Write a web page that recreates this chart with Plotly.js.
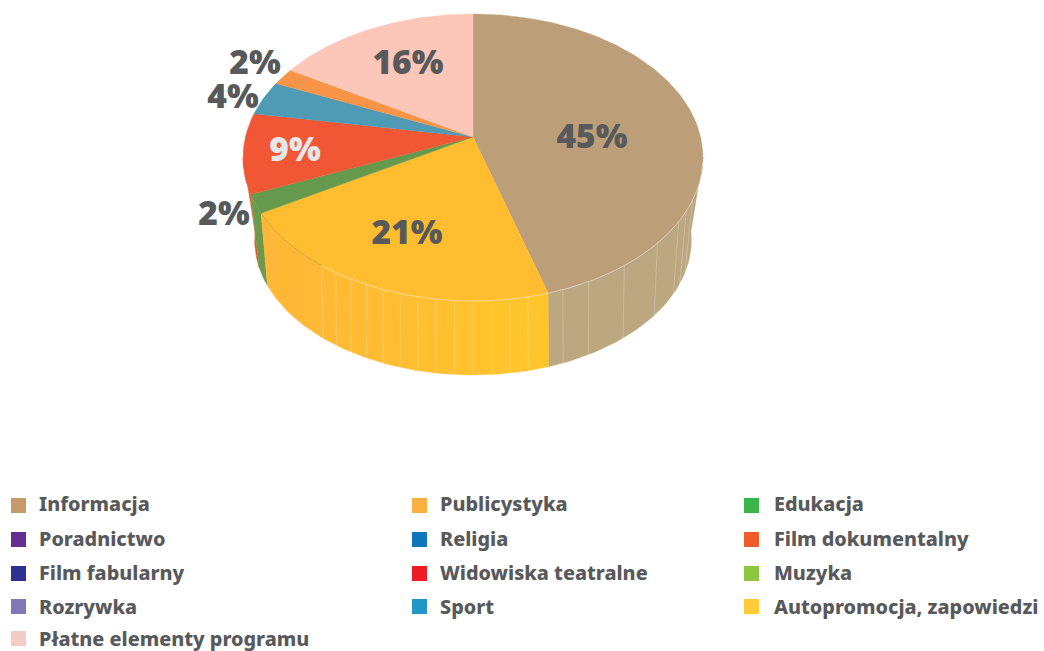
<!DOCTYPE html>
<html>
<head>
<meta charset="utf-8">
<script src="https://cdn.plot.ly/plotly-3.0.1.min.js"></script>
<style>html,body{margin:0;padding:0;background:#fff;overflow:hidden}#c{width:1044px;height:651px}</style>
</head>
<body>
<div id="c"></div>
<script>
// ---- data ----
const sliceNames  = ["Informacja","Publicystyka","Edukacja","Film dokumentalny","Sport","Autopromocja, zapowiedzi","Płatne elementy programu"];
const sliceValues = [45.4,21.2,2.1,9.0,3.9,1.9,16.5];
const sliceLabels = ["45%","21%","2%","9%","4%","2%","16%"];
const legendRow1 = ["Informacja","Publicystyka","Edukacja"];
const legendRow2 = ["Poradnictwo","Religia","Film dokumentalny"];
const legendRow3 = ["Film fabularny","Widowiska teatralne","Muzyka"];
const legendRow4 = ["Rozrywka","Sport","Autopromocja, zapowiedzi"];
const legendRow5 = ["Płatne elementy programu"];

// ---- styling ----
const topColors  = ["#BC9F79","#FFBD2F","#659A4E","#F15735","#4F9AB5","#F79448","#FCC6B9"];
const legendColors = {
 "Informacja":"#C49A6C","Publicystyka":"#FBB040","Edukacja":"#39B54A",
 "Poradnictwo":"#662D91","Religia":"#0F75BC","Film dokumentalny":"#F15A29",
 "Film fabularny":"#2E3192","Widowiska teatralne":"#ED1C24","Muzyka":"#8DC63F",
 "Rozrywka":"#8278B8","Sport":"#2197C9","Autopromocja, zapowiedzi":"#FFCB37",
 "Płatne elementy programu":"#F4CCC6"};
const INK = "#58595B";
const FONT = "'Noto Sans', 'Open Sans', sans-serif";

// ---- perspective disc geometry ----
const TOP = {k:0.1429, cx:473, cy:137, bx:227.6, by:140.6};
const BOT = {k:0.2, cx:473, cy:213, bx:214, by:129.6};
function proj(d, deg){
  const t = deg*Math.PI/180, u = Math.sin(t), v = Math.cos(t), w = 1+d.k*v;
  return [d.cx + d.bx*u/w, d.cy - d.by*v/w];
}
function arc(d, a0, a1){
  const n = Math.max(2, Math.ceil(Math.abs(a1-a0))), out = [];
  for(let i=0;i<=n;i++) out.push(proj(d, a0+(a1-a0)*i/n));
  return out;
}
const bounds = [0];
const total = sliceValues.reduce((a,b)=>a+b,0);
sliceValues.forEach(v=>bounds.push(bounds[bounds.length-1]+v/total*360));

function poly(pts, extra){
  return Object.assign({type:"scatter",mode:"lines",x:pts.map(p=>p[0]),y:pts.map(p=>p[1]),
    fill:"toself",hoverinfo:"skip",showlegend:false}, extra);
}
const traces = [];

// side walls, back to front; 98 and 262 degrees are the disc's silhouette
function wall(a0,a1,extra){
  const pts = arc(TOP,a0,a1).concat(arc(BOT,a1,a0));
  pts.push(pts[0]);
  traces.push(poly(pts, extra));
}
wall(bounds[3],262,{fillcolor:"#F15735",line:{width:0.4,color:"#F15735"}});
wall(bounds[2],bounds[3],{fillcolor:"#6C9A4B",line:{width:0.4,color:"#6C9A4B"}});
wall(98,bounds[1],{fillcolor:"#BBA780",line:{width:0.4,color:"#BBA780"}});
wall(bounds[1],bounds[2],{
  fillgradient:{type:"horizontal",colorscale:[[0,"#FFB637"],[1,"#FFC62A"]]},
  line:{width:0.4,color:"#FFBE30"}});

// seams of the wall
const seamAngles = [115,119.4,123.6,133,144,153.7,160,168,172,176,180,184,188,192,196,200,204,208,212,216];
const sx=[],sy=[];
seamAngles.forEach(a=>{const p=proj(TOP,a),q=proj(BOT,a);sx.push(p[0],q[0],null);sy.push(p[1],q[1],null);});
traces.push({type:"scatter",mode:"lines",x:sx,y:sy,hoverinfo:"skip",showlegend:false,
  line:{width:1,color:"rgba(255,255,255,0.22)"}});

// top faces
sliceValues.forEach((v,i)=>{
  const pts = [[TOP.cx,TOP.cy]].concat(arc(TOP,bounds[i],bounds[i+1]));
  pts.push(pts[0]);
  traces.push(poly(pts,{fillcolor:topColors[i],line:{width:0.4,color:topColors[i]},name:sliceNames[i]}));
});

// rim highlights
const rim = arc(TOP,100,216);
traces.push({type:"scatter",mode:"lines",x:rim.map(p=>p[0]),y:rim.map(p=>p[1]),hoverinfo:"skip",showlegend:false,
  line:{width:0.8,color:"rgba(255,255,255,0.5)"}});
const rim2 = arc(TOP,216,bounds[2]);
traces.push({type:"scatter",mode:"lines",x:rim2.map(p=>p[0]),y:rim2.map(p=>p[1]),hoverinfo:"skip",showlegend:false,
  line:{width:0.7,color:"rgba(130,140,70,0.6)"}});

// percentage labels
const labelX = [592,407,224,295,233,255,408];
const labelY = [140,236,217,153,100,66,66];
const labelColors = [INK,INK,INK,"#E6E7E8",INK,INK,INK];
traces.push({type:"scatter",mode:"text",x:labelX,y:labelY,text:sliceLabels,textposition:"middle center",
  hoverinfo:"skip",showlegend:false,
  textfont:{family:FONT,size:33.5,weight:900,color:labelColors}});

// legend
const colSwatch = [18.5,419.5,751.5];
const colText   = [39,440,774];
const rowY      = [505.5,539.5,573.5,606.5,638.5];
const rowTextY  = [506,541,575,609,641.5];
[legendRow1,legendRow2,legendRow3,legendRow4,legendRow5].forEach((row,r)=>{
  row.forEach((name,c)=>{
    traces.push({type:"scatter",mode:"markers",x:[colSwatch[c]],y:[rowY[r]],hoverinfo:"skip",showlegend:false,
      marker:{symbol:"square",size:15,color:legendColors[name],line:{width:0}}});
    traces.push({type:"scatter",mode:"text",x:[colText[c]],y:[rowTextY[r]],text:[name],textposition:"middle right",
      hoverinfo:"skip",showlegend:false,
      textfont:{family:FONT,size:19.8,weight:800,color:INK}});
  });
});

Plotly.newPlot("c",traces,{
  width:1044,height:651,margin:{l:0,r:0,t:0,b:0},
  paper_bgcolor:"#fff",plot_bgcolor:"#fff",showlegend:false,
  xaxis:{range:[0,1044],visible:false,fixedrange:true},
  yaxis:{range:[651,0],visible:false,fixedrange:true}
},{displayModeBar:false,staticPlot:true});
</script>
</body>
</html>
